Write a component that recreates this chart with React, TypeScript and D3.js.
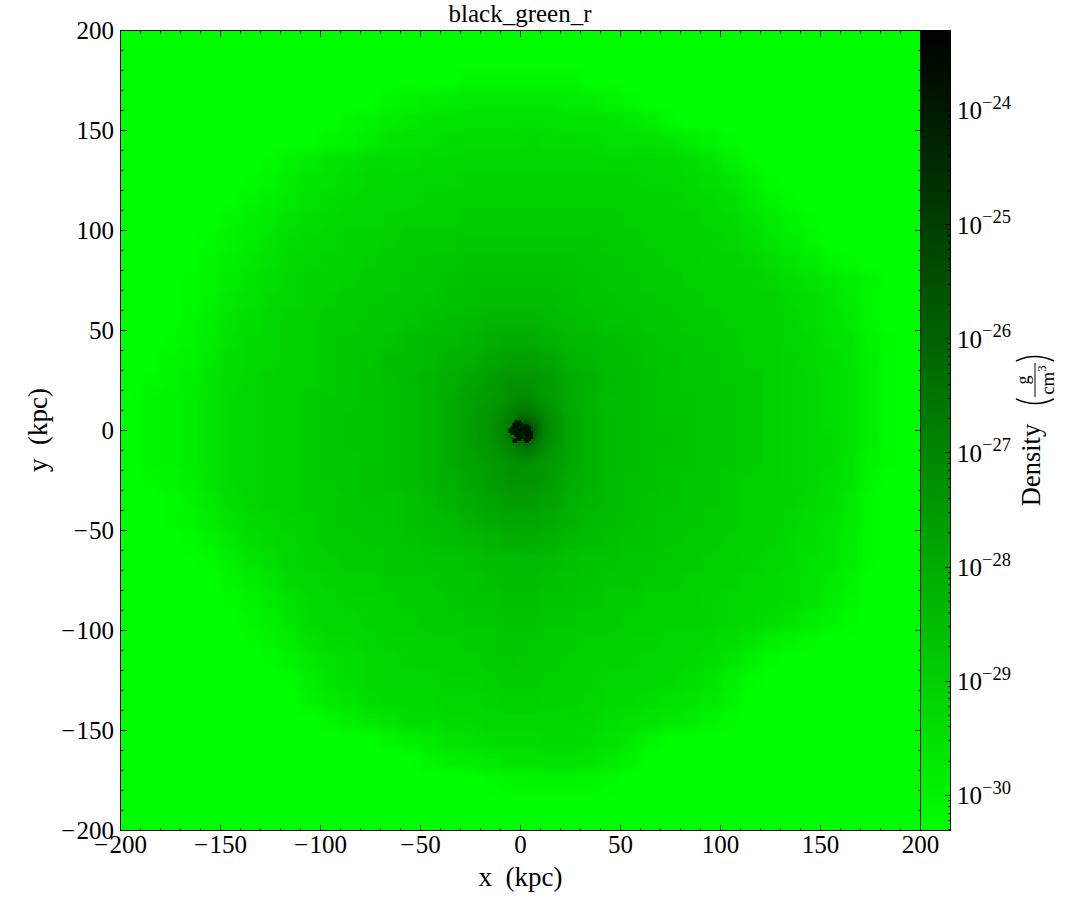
import React from "react";
import * as d3 from "d3";

// log10(density), stored as positive tenths: 303 means 10^-30.3 g/cm3. Rows run y = +195 ... -195, columns x = -195 ... +195 (10 kpc cells).
const L = 303;
const coarseGrid: number[][] = [
[L,L,L,L,L,L,L,L,L,L,L,L,L,L,L,L,L,L,L,L,L,L,L,L,L,L,L,L,L,L,L,L,L,L,L,L,L,L,L,L],
[L,L,L,L,L,L,L,L,L,L,L,L,L,L,L,L,L,L,L,L,L,L,L,L,L,L,L,L,L,L,L,L,L,L,L,L,L,L,L,L],
[L,L,L,L,L,L,L,L,L,L,L,L,L,L,L,L,L,301,301,301,301,301,301,L,L,L,L,L,L,L,L,L,L,L,L,L,L,L,L,L],
[L,L,L,L,L,L,L,L,L,L,L,L,L,301,300,299,298,297,297,297,297,297,298,298,300,302,L,L,L,L,L,L,L,L,L,L,L,L,L,L],
[L,L,L,L,L,L,L,L,L,L,L,301,300,298,297,296,296,295,295,295,295,295,296,296,296,297,299,302,L,L,L,L,L,L,L,L,L,L,L,L],
[L,L,L,L,L,L,L,L,L,L,301,300,298,296,295,295,294,294,294,294,293,294,294,294,295,295,295,296,298,300,302,L,L,L,L,L,L,L,L,L],
[L,L,L,L,L,L,L,302,300,298,296,295,294,294,294,293,293,292,292,292,292,292,292,292,293,293,292,293,294,296,299,302,L,L,L,L,L,L,L,L],
[L,L,L,L,L,L,302,301,298,296,295,294,293,293,292,292,292,291,291,291,291,291,291,291,291,291,292,292,293,294,296,299,302,L,L,L,L,L,L,L],
[L,L,L,L,L,L,301,299,297,295,294,293,292,292,292,291,291,290,290,290,290,290,290,290,290,290,291,291,292,293,294,297,300,302,L,L,L,L,L,L],
[L,L,L,L,L,301,299,297,295,294,293,292,292,291,290,290,290,289,289,289,289,289,289,289,289,290,290,291,291,292,293,295,297,300,302,L,L,L,L,L],
[L,L,L,L,302,300,298,296,294,293,292,291,291,290,289,289,289,288,288,288,288,288,288,288,289,289,290,290,291,291,292,294,296,298,301,L,L,L,L,L],
[L,L,L,L,301,299,297,295,293,292,291,291,290,289,289,288,288,287,287,287,287,287,287,288,288,289,289,290,290,291,291,292,294,296,298,301,302,L,L,L],
[L,L,L,302,301,298,296,294,292,291,291,290,289,289,288,288,287,286,286,286,286,286,287,287,288,288,289,289,290,290,290,291,292,294,295,297,299,301,L,L],
[L,L,L,302,300,297,295,293,292,291,290,289,289,288,288,287,286,286,285,285,285,285,286,287,287,288,288,289,289,290,290,291,291,293,294,296,298,301,L,L],
[L,L,L,301,299,296,294,292,291,290,289,289,288,288,287,286,285,284,283,283,283,284,285,286,287,287,288,288,289,289,290,290,291,292,294,295,297,301,L,L],
[L,L,302,301,298,295,293,292,291,290,289,288,288,287,285,284,284,283,281,280,280,282,284,284,285,286,287,288,288,289,289,290,291,292,293,295,296,300,302,L],
[L,L,301,300,297,294,293,292,291,290,289,288,287,285,285,284,282,281,279,277,277,279,282,283,285,285,287,287,288,288,289,290,290,291,293,294,296,299,302,L],
[L,302,301,299,296,294,292,291,290,290,289,288,287,286,284,283,281,279,276,274,274,276,280,282,284,285,286,287,288,288,289,289,290,291,292,294,295,299,302,L],
[L,301,300,298,296,293,292,291,290,289,288,288,287,286,285,283,280,277,275,270,270,276,280,282,285,285,286,287,287,288,288,289,290,291,292,294,295,299,302,L],
[L,301,300,298,296,293,292,291,290,289,288,287,287,286,285,283,280,277,272,266,266,273,279,282,284,285,286,287,287,288,288,289,290,291,292,294,295,299,302,L],
[L,301,300,298,296,293,292,291,290,289,288,287,287,286,285,283,280,277,273,266,266,272,279,282,284,285,286,286,287,288,288,289,290,291,292,293,295,299,302,L],
[L,301,300,298,296,293,292,291,290,289,288,288,287,286,285,283,280,278,275,271,272,275,279,282,284,285,286,287,287,288,288,289,290,291,292,293,296,300,302,L],
[L,302,301,299,296,293,292,291,290,289,288,288,287,286,285,283,281,279,276,274,274,276,280,282,284,286,286,287,288,288,289,290,290,291,292,294,296,301,L,L],
[L,L,302,300,297,294,292,291,290,289,289,288,287,287,286,284,282,280,278,276,276,278,281,283,284,286,287,287,288,288,289,290,291,291,293,294,297,302,L,L],
[L,L,302,301,298,295,293,292,291,290,289,288,288,287,286,285,284,282,280,279,279,280,282,284,285,286,287,288,288,289,289,290,291,292,294,295,297,302,L,L],
[L,L,L,302,300,297,294,293,292,290,289,289,288,288,287,286,285,284,283,281,281,282,284,285,286,287,287,288,289,289,290,290,291,293,294,296,298,302,L,L],
[L,L,L,L,302,299,296,294,292,291,290,289,289,288,288,287,287,286,285,285,284,285,286,287,287,288,288,289,289,290,290,291,292,293,295,296,298,302,L,L],
[L,L,L,L,L,301,298,296,293,292,291,290,290,289,289,288,287,287,286,285,285,286,287,287,288,288,289,289,290,290,291,292,293,294,295,297,300,L,L,L],
[L,L,L,L,L,302,300,297,295,293,292,291,291,290,289,289,288,287,287,286,286,287,287,288,289,289,290,290,290,291,292,293,293,294,295,298,301,L,L,L],
[L,L,L,L,L,L,301,299,296,293,292,292,291,290,290,289,289,288,288,287,287,288,288,289,289,290,290,291,291,291,292,293,294,296,298,300,302,L,L,L],
[L,L,L,L,L,L,302,300,298,295,293,293,292,291,291,290,290,289,289,288,288,289,289,290,290,291,291,292,292,293,294,296,298,300,302,L,L,L,L,L],
[L,L,L,L,L,L,L,302,300,297,295,294,293,292,291,291,290,290,289,288,289,289,290,291,291,291,292,292,293,294,296,299,302,L,L,L,L,L,L,L],
[L,L,L,L,L,L,L,L,302,299,296,294,293,292,292,292,291,291,290,289,289,290,290,291,292,292,292,293,294,296,299,302,L,L,L,L,L,L,L,L],
[L,L,L,L,L,L,L,L,L,300,297,296,294,293,293,293,292,292,291,290,290,291,291,292,293,293,294,295,296,297,300,L,L,L,L,L,L,L,L,L],
[L,L,L,L,L,L,L,L,L,L,301,299,297,296,294,294,293,293,292,292,292,292,293,293,294,295,296,297,298,300,302,L,L,L,L,L,L,L,L,L],
[L,L,L,L,L,L,L,L,L,L,L,L,L,301,299,297,296,295,294,294,294,293,293,294,295,297,300,L,L,L,L,L,L,L,L,L,L,L,L,L],
[L,L,L,L,L,L,L,L,L,L,L,L,L,L,L,301,299,298,297,296,296,295,295,296,297,300,L,L,L,L,L,L,L,L,L,L,L,L,L,L],
[L,L,L,L,L,L,L,L,L,L,L,L,L,L,L,L,L,L,302,301,300,300,300,301,302,L,L,L,L,L,L,L,L,L,L,L,L,L,L,L],
[L,L,L,L,L,L,L,L,L,L,L,L,L,L,L,L,L,L,L,L,L,L,L,L,L,L,L,L,L,L,L,L,L,L,L,L,L,L,L,L],
[L,L,L,L,L,L,L,L,L,L,L,L,L,L,L,L,L,L,L,L,L,L,L,L,L,L,L,L,L,L,L,L,L,L,L,L,L,L,L,L],
];

// Central +-20 kpc in 2.5 kpc cells, same encoding. Rows run from +18.75 down.
const innerGrid: number[][] = [
[277,276,276,275,275,274,273,273,273,273,274,275,275,276,277,277],
[277,276,275,275,274,273,272,271,271,271,272,274,275,275,276,277],
[276,275,275,274,273,272,271,270,270,270,271,272,274,275,276,276],
[276,275,274,273,272,271,270,268,268,268,269,271,272,274,275,276],
[275,275,274,273,272,270,268,266,265,265,267,269,271,273,274,275],
[275,274,273,272,271,269,267,264,261,261,264,267,270,272,274,275],
[275,274,273,272,270,268,265,260,255,255,260,265,269,271,273,275],
[275,274,273,271,270,267,263,256,250,250,256,263,268,271,273,275],
[275,274,273,271,270,267,263,256,250,250,255,262,268,271,273,275],
[275,274,273,272,270,268,265,260,255,255,259,264,269,271,273,275],
[275,274,273,272,271,269,267,264,262,261,263,267,270,272,274,275],
[276,275,274,273,272,270,269,267,265,264,266,269,271,273,275,276],
[276,275,274,273,272,271,270,269,268,267,269,271,273,274,275,276],
[276,275,275,274,273,272,272,271,270,270,271,272,274,275,276,276],
[277,276,275,275,274,273,273,272,272,272,273,274,275,275,276,277],
[277,277,276,276,275,274,274,274,274,274,274,275,275,276,277,277],
];

// The black clump, 1 kpc cells, x = -6...+6, rows from y = +5 down. 0 = nothing drawn.
const coreGrid: number[][] = [
[0,0,0,238,238,238,0,0,0,0,0,0],
[0,0,238,238,238,240,245,0,0,0,0,0],
[0,0,238,238,238,238,245,240,238,238,0,0],
[0,238,238,238,238,245,238,238,238,238,240,0],
[238,238,240,245,238,238,238,238,238,238,238,0],
[238,238,238,238,245,238,238,245,238,238,238,240],
[0,238,238,238,238,238,245,238,238,238,238,238],
[0,0,0,240,238,238,238,245,238,238,238,238],
[0,0,0,0,238,238,240,245,245,238,238,238],
[0,0,238,238,238,240,0,250,238,238,240,0],
[0,0,238,240,0,0,0,0,238,240,0,0],
[0,0,0,0,0,0,0,0,0,0,0,0],
];

const majorTicks = [-200, -150, -100, -50, 0, 50, 100, 150, 200];
const minorTicks = [-190,-180,-170,-160,-140,-130,-120,-110,-90,-80,-70,-60,-40,-30,-20,-10,10,20,30,40,60,70,80,90,110,120,130,140,160,170,180,190];
const cbarDecades = [-30, -29, -28, -27, -26, -25, -24];
const cbarMultiples = [2, 3, 4, 5, 6, 7, 8, 9];

const SERIF = "'Liberation Serif', 'Times New Roman', serif";
const LEFT = 120.5, RIGHT = 920.5, TOP = 30.5, BOTTOM = 830.5, CBR = 950.5;
const LOG_MIN = -30.307, LOG_MAX = -23.3;

const x = d3.scaleLinear().domain([-200, 200]).range([LEFT, RIGHT]);
const y = d3.scaleLinear().domain([-200, 200]).range([BOTTOM, TOP]);
const cbarY = d3.scaleLog().domain([10 ** LOG_MIN, 10 ** LOG_MAX]).range([BOTTOM, TOP]);
const green = d3.scaleLinear().domain([LOG_MIN, LOG_MAX]).range([255, 0]).clamp(true);
const colour = (log: number) => `rgb(0,${Math.round(green(log))},0)`;
const fromTenths = (v: number) => -v / 10;

function cells(grid: number[][], x0: number, y0: number, step: number) {
  const out: React.ReactElement[] = [];
  grid.forEach((row, r) =>
    row.forEach((v, c) => {
      if (!v) return;
      const xa = x(x0 + c * step), xb = x(x0 + (c + 1) * step);
      const ya = y(y0 - r * step), yb = y(y0 - (r + 1) * step);
      out.push(<rect key={`${r}-${c}`} x={xa} y={ya} width={xb - xa + 0.5} height={yb - ya + 0.5} fill={colour(fromTenths(v))} />);
    })
  );
  return out;
}

const parenPath = (() => {
  const p = d3.path();
  p.moveTo(6, -19);
  p.quadraticCurveTo(-3, 0, 6, 19);
  return p.toString();
})();
const parenPathR = (() => {
  const p = d3.path();
  p.moveTo(-6, -19);
  p.quadraticCurveTo(3, 0, -6, 19);
  return p.toString();
})();

const signedLabel = (t: number) =>
  t < 0 ? (
    <>
      {"\u2212"}
      <tspan dx={1.5}>{-t}</tspan>
    </>
  ) : (
    t
  );

export default function App() {
  const tickLine = "#000";
  return (
    <svg width={1085} height={920} style={{ position: "absolute", left: 0, top: 0, background: "#fff" }} fontFamily={SERIF} fill="#000">
      <defs>
        <clipPath id="plot"><rect x={LEFT} y={TOP} width={RIGHT - LEFT} height={BOTTOM - TOP} /></clipPath>
        <filter id="soft" x="-5%" y="-5%" width="110%" height="110%" colorInterpolationFilters="sRGB"><feGaussianBlur stdDeviation="4.5" /></filter>
        <filter id="softInner" x="-10%" y="-10%" width="120%" height="120%" colorInterpolationFilters="sRGB"><feGaussianBlur stdDeviation="3" /></filter>
        <filter id="softCore" x="-20%" y="-20%" width="140%" height="140%" colorInterpolationFilters="sRGB"><feGaussianBlur stdDeviation="0.6" /></filter>
        <linearGradient id="cbar" x1="0" y1="1" x2="0" y2="0">
          <stop offset="0" stopColor={colour(LOG_MIN)} />
          <stop offset="1" stopColor={colour(LOG_MAX)} />
        </linearGradient>
      </defs>

      <rect x={LEFT} y={TOP} width={RIGHT - LEFT} height={BOTTOM - TOP} fill="rgb(0,255,0)" />
      <g clipPath="url(#plot)">
        <g filter="url(#soft)">{cells(coarseGrid, -200, 200, 10)}</g>
        <g filter="url(#softInner)">{cells(innerGrid, -20, 20, 2.5)}</g>
        <g filter="url(#softCore)">{cells(coreGrid, -6, 5, 1)}</g>
      </g>

      <rect x={RIGHT} y={TOP} width={CBR - RIGHT} height={BOTTOM - TOP} fill="url(#cbar)" />

      <g stroke={tickLine} strokeWidth={1} shapeRendering="crispEdges">
        {majorTicks.map((t) => (
          <g key={t}>
            <line x1={x(t)} x2={x(t)} y1={BOTTOM} y2={BOTTOM - 6} />
            <line x1={x(t)} x2={x(t)} y1={TOP} y2={TOP + 6} />
            <line y1={y(t)} y2={y(t)} x1={LEFT} x2={LEFT + 6} />
            <line y1={y(t)} y2={y(t)} x1={RIGHT} x2={RIGHT - 6} />
          </g>
        ))}
        {minorTicks.map((t) => (
          <g key={t}>
            <line x1={x(t)} x2={x(t)} y1={BOTTOM} y2={BOTTOM - 3} />
            <line x1={x(t)} x2={x(t)} y1={TOP} y2={TOP + 3} />
            <line y1={y(t)} y2={y(t)} x1={LEFT} x2={LEFT + 3} />
            <line y1={y(t)} y2={y(t)} x1={RIGHT} x2={RIGHT - 3} />
          </g>
        ))}
        {cbarDecades.map((d) => (
          <line key={d} x1={CBR} x2={CBR - 6} y1={cbarY(10 ** d)} y2={cbarY(10 ** d)} />
        ))}
        {[...cbarDecades, -31].flatMap((d) =>
          cbarMultiples
            .map((m) => m * 10 ** d)
            .filter((v) => v > 10 ** LOG_MIN && v < 10 ** LOG_MAX)
            .map((v) => <line key={v} x1={CBR} x2={CBR - 3} y1={cbarY(v)} y2={cbarY(v)} />)
        )}
        <rect x={LEFT} y={TOP} width={RIGHT - LEFT} height={BOTTOM - TOP} fill="none" />
        <rect x={RIGHT} y={TOP} width={CBR - RIGHT} height={BOTTOM - TOP} fill="none" />
      </g>

      <g fontSize={25}>
        {majorTicks.map((t) => (
          <text key={`x${t}`} x={x(t)} y={853} textAnchor="middle">{signedLabel(t)}</text>
        ))}
        {majorTicks.map((t) => (
          <text key={`y${t}`} x={114} y={y(t) + 8.5} textAnchor="end">{signedLabel(t)}</text>
        ))}
        {cbarDecades.map((d) => (
          <text key={d} x={957} y={cbarY(10 ** d) + 9} >
            10<tspan fontSize={18.5} dy={-10.5}>{`\u2212${-d}`}</tspan>
          </text>
        ))}
        <text x={520} y={21.5} textAnchor="middle">black_green_r</text>
        <text x={520.5} y={886} textAnchor="middle" fontSize={27} xmlSpace="preserve">{"x  (kpc)"}</text>
        <text transform="translate(47,430) rotate(-90)" textAnchor="middle" fontSize={27} xmlSpace="preserve">{"y  (kpc)"}</text>
        <text transform="translate(1040,465) rotate(-90)" textAnchor="middle" fontSize={26.5}>Density</text>
      </g>
      <g transform="translate(1035,380)">
        <g transform="rotate(-90)">
          <path d={parenPath} transform="translate(-25,0)" fill="none" stroke="#000" strokeWidth={1.4} />
          <path d={parenPathR} transform="translate(25,0)" fill="none" stroke="#000" strokeWidth={1.4} />
          <line x1={-17} x2={17} y1={0} y2={0} stroke="#000" strokeWidth={1} />
          <text x={0} y={-6} textAnchor="middle" fontSize={18}>g</text>
          <text x={0} y={19} textAnchor="middle" fontSize={19}>cm<tspan fontSize={13} dy={-8}>3</tspan></text>
        </g>
      </g>
    </svg>
  );
}
